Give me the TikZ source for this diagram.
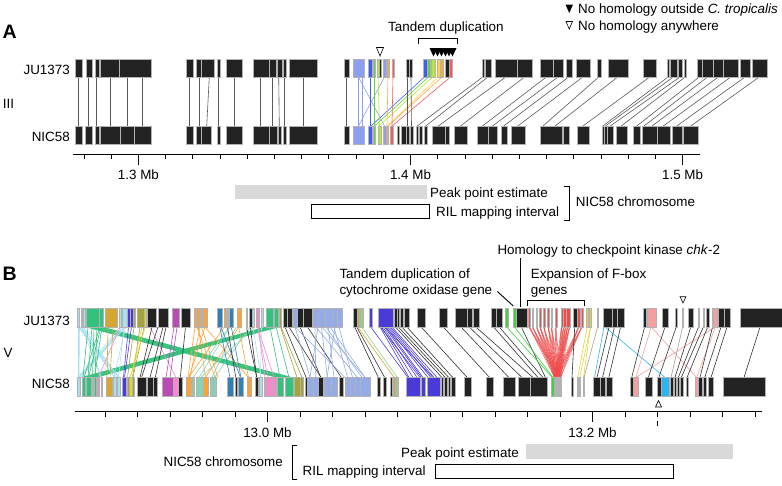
\documentclass[tikz,border=0pt]{standalone}
\usepackage{fontspec}
\setmainfont{Liberation Sans}

% colours of panel A
\definecolor{k}{HTML}{222222}
\definecolor{aLn}{HTML}{5A5A5A}
\definecolor{aLb}{HTML}{8E9FF0}
\definecolor{aBl}{HTML}{3D5EF2}
\definecolor{aGr}{HTML}{5FD62F}
\definecolor{aYg}{HTML}{B8E82A}
\definecolor{aYo}{HTML}{FFCF4A}
\definecolor{aOr}{HTML}{FFA93A}
\definecolor{aRd}{HTML}{F25C5C}
% colours of panel B
\definecolor{kl}{HTML}{333333}
\definecolor{bLc}{HTML}{A8E0F0}
\definecolor{bGr}{HTML}{33C27C}
\definecolor{bGd}{HTML}{D4A733}
\definecolor{bBl}{HTML}{4A3BD9}
\definecolor{bOl}{HTML}{A5A33D}
\definecolor{bMg}{HTML}{B94AB6}
\definecolor{bOr}{HTML}{FFA234}
\definecolor{bSt}{HTML}{2F80B6}
\definecolor{bPk}{HTML}{F48ACB}
\definecolor{bLs}{HTML}{94ABE8}
\definecolor{bSf}{HTML}{88D2B5}
\definecolor{bYe}{HTML}{E3D43A}
\definecolor{bRd}{HTML}{EE4B4B}
\definecolor{bLp}{HTML}{F5A0A0}
\definecolor{bCb}{HTML}{2BB6F2}
\definecolor{bLg}{HTML}{93D08C}
\definecolor{bG2}{HTML}{40D040}
\definecolor{bGy}{HTML}{A0A0A0}
\definecolor{peak}{HTML}{D9D9D9}

\tikzset{
  blk/.style={draw=gray!60, line width=0.35pt},
  lnk/.style={line width=0.6pt},
  lbl/.style={font=\fontsize{13.4}{16}\selectfont, inner sep=0pt},
  panel/.style={font=\fontsize{19.5}{22}\selectfont\bfseries, inner sep=0pt},
  axln/.style={line width=1.1pt},
  axtick/.style={line width=0.8pt},
}

\begin{document}
\begin{tikzpicture}[x=1pt,y=-1pt]
    \useasboundingbox (0,0) rectangle (782,485);

    % ---------------- Panel A ----------------
    \node[panel, anchor=base west] (panA) at (2.5,38.3) {A};
    \node[lbl, anchor=base east] (juA) at (70,74) {JU1373};
    \node[lbl, anchor=base east] (nicA) at (70,141.5) {NIC58};
    \node[lbl, anchor=base] (chrA) at (8.5,108.5) {III};

    % Legend
    \fill (565.5,4.5) -- (573,4.5) -- (569.25,13) -- cycle;
    \draw[line width=0.6pt] (566,21.5) -- (572.5,21.5) -- (569.25,29) -- cycle;
    \node[lbl, anchor=base west] (leg1) at (578,13.5) {No homology outside \textit{C. tropicalis}};
    \node[lbl, anchor=base west] (leg2) at (578,30.3) {No homology anywhere};

    % Tandem duplication bracket and markers
    \node[lbl, anchor=base west] (tand) at (388,31) {Tandem duplication};
    \draw[line width=0.9pt] (418,44) -- (418,38.5) -- (457.3,38.5) -- (457.3,44);
    \foreach \t in {433.5,437.5,441.5,445.5,449,452.5}
        \fill (\t-4,48) -- (\t+4,48) -- (\t,56.5) -- cycle;
    \draw[line width=0.6pt] (376.5,47.5) -- (383.5,47.5) -- (380,56) -- cycle;

    % Connectors
    \foreach \p/\q/\c in {78/78/aLn, 88.7/88.7/aLn, 96.7/96.7/aLn, 110/110/aLn, 127.7/127.7/aLn, 142.7/142.7/aLn,
        189.3/189.3/aLn, 199/199/aLn, 209.3/206.7/aLn, 218.7/218.7/aLn, 234.3/234.3/aLn, 260/260/aLn,
        272.7/272.7/aLn, 278.7/279.3/aLn, 284.3/284.3/aLn, 303.3/303.3/aLn, 346.7/346.7/aLn,
        358/358/aLb, 362.5/362.5/aLb, 358.5/384.5/aLb, 384.5/358.5/aLb,
        370/370/aBl, 424.5/371/aBl, 374/374/aGr, 428.5/374.5/aGr, 378/379.5/aYg, 432.5/379/aYg,
        388/387/aOr, 438/387.5/aYo, 442/388/aOr, 393/392/aRd, 450.5/392/aRd,
        407.3/407.3/aLn, 411/411.5/aLn,
        482.8/417.2/aLn, 487.8/425.8/aLn, 505.8/438.3/aLn, 524.5/460.5/aLn, 546.3/482.5/aLn, 558/492.5/aLn,
        568.7/503.7/aLn, 582.8/517.8/aLn, 598.7/543/aLn, 617.7/555/aLn, 649.7/583/aLn, 668/602.8/aLn,
        673.3/605.5/aLn, 680/610.3/aLn, 685.2/621.2/aLn, 699.2/636.7/aLn, 707.5/644/aLn, 718.3/652/aLn,
        730.8/663.3/aLn, 745/676.8/aLn, 759.2/690.8/aLn}
        \draw[lnk, \c] (\p,77) -- (\q,126);

    % JU1373 row
    \foreach \a/\b/\c in {75/81.7/k, 86/91.7/k, 94.7/98.7/k, 100/119.3/k, 119.3/150.7/k,
        186/192.7/k, 196/201.3/k, 201.3/214.3/k, 217/220.3/k, 226/242/k, 253.3/268.7/k, 268.7/276/k,
        276.7/281.7/k, 282.7/285.7/k, 289/317.3/k, 344.3/349.3/k, 353.3/364.3/aLb, 368.3/371.7/aBl,
        372.7/375/aGr, 376.7/379/aYg, 379.3/380.7/k, 383.3/386.3/aLb, 386.7/389/aOr, 391.7/394.3/aRd,
        406/408.7/k, 409.3/412.3/k, 422.7/426.7/aBl, 427/430.3/aGr, 430.7/434.7/aYg, 436.7/440/aYo,
        440/443.3/aOr, 445/449/k, 449/452/aRd, 481.7/484/k, 485/490.7/k, 495/516.7/k, 517.3/531.7/k,
        540/552.7/k, 553.3/562.7/k, 565.7/571.7/k, 575.7/590/k, 596.7/600.7/k, 607.7/627.7/k,
        643.3/656/k, 666.7/669.3/k, 670/676.7/k, 678.3/681.7/k, 684.3/686/k, 696.7/701.7/k,
        701.7/713.3/k, 713.3/723.3/k, 723.3/738.3/k, 740/750/k, 751.7/766.7/k}
        \draw[blk, fill=\c] (\a,59) rectangle (\b,77);

    % NIC58 row
    \foreach \a/\b/\c in {75/81.7/k, 85.3/91.7/k, 94.7/99/k, 100/120/k, 120/134.3/k, 134.3/150.7/k,
        186/192.7/k, 196/201.3/k, 201.3/210.7/k, 217/220.3/k, 226/242/k, 253.3/268.7/k, 268.7/276.7/k,
        277.7/281.3/k, 282.7/285.7/k, 289/317.3/k, 344.3/349.3/k, 353.3/364.3/aLb, 368.3/372/aBl,
        373/375.3/aGr, 377.7/381/aYg, 383/386/aLb, 386/388.3/aOr, 390/393.3/aRd, 396.7/399.3/k,
        401/406/k, 406/409.3/k, 410/413.3/k, 416/418.3/k, 419.5/422.5/k, 424.3/427.3/k, 431.7/445/k,
        445/449.5/k, 454/467/k, 476.7/488.3/k, 488.3/496.7/k, 500.7/506.7/k, 510.7/525/k, 540/561.7/k,
        562.7/569.3/k, 576.7/589.3/k, 601.7/604/k, 604.3/606.7/k, 607.3/613.3/k, 615.7/626.7/k,
        633.3/640/k, 641.7/656.7/k, 656.7/670/k, 671.7/682/k, 683.3/698.3/k}
        \draw[blk, fill=\c] (\a,126) rectangle (\b,144);

    % Axis
    \draw[axln] (72.7,154.3) -- (700,154.3);
    \foreach \i in {0,...,22}
        \draw[axtick] (84+27.21*\i,154.3) -- ++(0,5);
    \foreach \x in {138.42,410.52,682.62}
        \draw[axtick] (\x,154.3) -- ++(0,10.5);
    \node[lbl, anchor=base] (mbA1) at (138.4,179.5) {1.3 Mb};
    \node[lbl, anchor=base] (mbA2) at (410.5,179.5) {1.4 Mb};
    \node[lbl, anchor=base] (mbA3) at (682.6,179.5) {1.5 Mb};

    % Mapping intervals
    \fill[peak] (235,185) rectangle (426.7,199.3);
    \draw[line width=0.8pt] (311,204.3) rectangle (429.5,218.3);
    \node[lbl, anchor=base west] (peakA) at (430,197.5) {Peak point estimate};
    \node[lbl, anchor=base west] (rilA) at (436,216.3) {RIL mapping interval};
    \draw[line width=0.9pt] (564,186) -- (569,186) -- (569,220) -- (564,220);
    \node[lbl, anchor=base west] (chrmA) at (575.7,206.3) {NIC58 chromosome};

    % ---------------- Panel B ----------------
    \node[panel, anchor=base west] (panB) at (2.5,280.7) {B};
    \node[lbl, anchor=base east] (juB) at (70,325) {JU1373};
    \node[lbl, anchor=base east] (nicB) at (70,388.3) {NIC58};
    \node[lbl, anchor=base] (chrB) at (8,357) {V};

    % Annotations
    \node[lbl, anchor=base west] (tandB) at (339.3,278) {Tandem duplication of};
    \node[lbl, anchor=base west] (cyto) at (339.3,294) {cytochrome oxidase gene};
    \coordinate (cytoPt) at (513.3,306);
    \draw[line width=0.9pt] ([xshift=5pt,yshift=-1pt]cyto.east) -- (cytoPt);
    \node[lbl, anchor=base west] (chk) at (497.3,254.3) {Homology to checkpoint kinase \textit{chk}-2};
    \coordinate (chkTop) at (520.7,258);
    \coordinate (chkBot) at (520.7,306.5);
    \draw[line width=0.9pt] (chkTop) -- (chkBot);
    \node[lbl, anchor=base west] (fbox) at (530.7,278) {Expansion of F-box};
    \node[lbl, anchor=base west] (genes) at (530.7,294) {genes};
    \draw[line width=0.9pt] (527.3,306) -- (527.3,300) -- (584.3,300) -- (584.3,306);
    \draw[line width=0.6pt] (680,296.7) -- (686,296.7) -- (683,303) -- cycle;
    \draw[line width=0.6pt] (655.5,407) -- (661.5,407) -- (658.5,400.5) -- cycle;

    % Long green bands
    \foreach \i in {0,...,7}
        \draw[line width=0.8pt, bGr] (86.5+2.2*\i,327) -- (277.5+2*\i,377.5);
    \foreach \i in {0,...,7}
        \draw[line width=0.8pt, bGr] (266+1.7*\i,327) -- (81.7+2*\i,377.5);

    % Red fan of F-box genes
    \foreach \p in {529.2,532.5,536.5,540,543.8,548.2,551.5,555.8,561.5,563.5,565.5,567.5,569.5,578.7,581.8}
        \foreach \q in {554.5,556.5,558.5,560.5}
            \draw[lnk, bRd, opacity=0.75] (\p,327) -- (\q,377.5);

    % Connectors
    \foreach \p/\q/\c in {78/78/bLc, 79.5/80/bLc, 78.5/115/bLc, 80/117/bLc, 81.5/114.5/bLc, 83/118.5/bLc,
        84/101.5/bLc, 120/78.5/bLc, 122/80.5/bLc, 123.5/79/bLc, 125/81/bLc, 124/118.5/bLc, 125.5/114/bLc,
        79/119.5/bLc, 126/77.8/bLc, 82/100.5/bLc,
        88/83/bGr, 92/88/bGr, 97/95/bGr, 101/88.5/bGr, 102/94.5/bGr, 94/92.5/bGr, 100/84/bGr,
        108/107/bGd, 113/110/bGd,
        120/98.3/bPk, 150/176/bPk, 257.5/268/bPk, 257.5/274/bPk, 258/265/bPk,
        128.5/123.5/bBl, 131.5/124.5/bBl,
        134/127.5/bOl, 140/132.5/bOl, 144/133/bOl, 142/130.5/bYe, 145.3/130/bYe,
        152/140/kl, 158/141.5/kl, 163/150/kl, 166/155.3/kl, 185.5/180.3/kl,
        174/166/bMg, 177/170/bMg,
        195/188/bOr, 198.3/205.5/bOr, 201.3/218/bOr, 205/248.5/bOr, 205/189/bOr, 224.3/188.5/bOr,
        238.7/205.5/bOr, 238.7/248.5/bOr, 197/215/bOr, 200/190/bOr,
        230/199/bSf, 236/212/bSf, 250/214.7/bSf, 229/193/bSf, 254/201/bSf,
        219.8/230/bSt, 231.3/241/bSt, 221/240.5/bSt,
        227.5/235.8/kl, 246.5/256.7/kl, 250.3/256.7/kl, 261.5/260.5/bLc, 253/261/bLc,
        270/280/bGr, 276/289/bGr, 280.5/297/bOl, 281/302/bOl,
        285/306.2/kl, 289/321/kl, 300/320.8/kl, 307.5/341.3/kl,
        295/310/bLs, 315/315.8/bLs, 321.5/327.3/bLs, 328.3/334/bLs, 334/347.5/bLs, 339/352.5/bLs,
        316/357.5/bLs, 322/365/bLs, 295/345/bLs, 330/365/bLs, 318/310/bLs, 335/327/bLs, 326/362/bLs,
        354.7/378.3/kl, 356.7/384.7/kl, 357.8/394.2/bGd, 361.7/397.2/bLg, 370.8/408/bBl,
        380/409/bBl, 381.5/413/bBl, 383/417/bBl, 384.5/421.5/bBl, 386/423/bBl, 387.5/428/bBl,
        389/431/bBl, 390.5/434/bBl, 392/437/bBl, 380.5/420/bBl, 385/433/bBl,
        395.5/441.9/kl, 398.4/445.3/kl, 401.8/448.8/kl, 406.9/452.8/kl, 421.2/467.3/kl, 443.3/489.6/kl,
        461/508.8/kl, 469.2/522/kl, 475.8/533/kl, 493.6/538/kl, 499.3/543/kl, 521.3/545.5/kl,
        506.7/552.3/bG2, 514.7/553/bG2,
        574.7/572/kl, 587.2/577.6/bYe, 590.5/579.7/bYe, 590.5/583.5/bYe, 597.6/584/bGy,
        605/665/bCb, 604/594.5/bCb,
        609/597/kl, 614.5/602.5/kl, 620.6/608.8/kl, 644.6/631.7/kl,
        651.3/635.8/bLp, 651.3/696.6/bLp, 715.3/635.8/bLp, 715.3/696.6/bLp,
        665/648.3/kl, 676.2/658.8/kl, 682.6/671/bGy, 690.8/675/kl, 698.5/678.3/kl, 703.3/681.3/kl,
        707.7/687/kl, 712.5/700/kl, 721/704.7/kl, 727/711/kl, 760/744/kl}
        \draw[lnk, \c] (\p,327) -- (\q,377.5);

    % JU1373 row
    \foreach \a/\b/\c in {77.3/79.3/bLc, 80.7/82/bLc, 82.7/85.5/bLc, 86.5/99/bGr, 99.5/103.3/bGr,
        105/116.7/bGd, 119.3/120.7/bLc, 121.7/126.7/bLc, 127.3/130/bBl, 130.3/132.7/bBl, 132.7/135.3/bOl,
        136.7/144/bOl, 144/146.3/bYe, 147.5/156.5/k, 157.7/168.5/k, 171.7/179.3/bMg, 180.7/190/k,
        194/196/bOr, 196.7/200/bOr, 200.7/202/bOr, 203.3/206.7/bOr, 217.5/222/bSt, 224.3/225.7/bOr,
        226.7/228.3/k, 229.3/233.3/bSt, 236.7/240.7/bOr, 245.7/247.5/k, 249/251.7/k, 252.5/254/bLc,
        256.5/259/bPk, 260.7/263.3/bLc, 265.7/273.3/bGr, 274/278.3/bGr, 279.3/281.5/bOl, 283/286.7/k,
        286.7/291.7/k, 292.8/296.7/bLs, 297.3/303.3/k, 303.3/311.7/k, 312.7/318.3/bLs, 318.3/325/bLs,
        325/331.7/bLs, 331.7/336.7/bLs, 336.7/341.7/bLs, 352.7/356.7/k, 356.7/359/bGd, 360/363.3/bLg,
        369.3/372.3/bBl, 378.3/393/bBl, 394.3/396.7/k, 397.3/399.5/k, 400.3/403.3/k, 404.5/409.3/k,
        417.3/425/k, 439.5/447/k, 455.3/466.7/k, 466.7/471.7/k, 472.7/479/k, 490.7/496.5/k,
        496.5/502/k, 505/508.3/bG2, 513.3/516/bG2, 516/526.7/k, 528.3/530/bRd, 531.7/533.3/bRd,
        535.7/537.3/bRd, 539.3/540.7/bRd, 542.7/545/bRd, 547.3/549/bRd, 550.7/552.3/bRd, 555/556.7/bRd,
        560.7/563.5/bRd, 563.5/566.5/bRd, 566.5/570/bRd, 572.7/576.7/k, 577.3/580/bRd, 581/582.7/bRd,
        586.5/588/bYe, 589.5/591.5/bYe, 596.7/598.5/bGy, 603.3/611.7/k, 612.3/616.7/k, 617.3/624/k,
        643.3/646/k, 646.7/656/bLp, 661.7/668.3/k, 675/677.3/k, 681.7/683.5/bGy, 688.3/693.3/k,
        697.7/699.3/k, 702.7/704/k, 706/709.3/k, 711.7/713.3/k, 713.3/717.3/bLp, 718.3/724/k,
        724/730/k, 740/781.7/k}
        \draw[blk, fill=\c] (\a,308.5) rectangle (\b,327);

    % NIC58 row
    \foreach \a/\b/\c in {77.3/80/bLc, 81.7/85/bGr, 86/90.7/bGr, 91.7/93.3/k, 94/96/bGr, 97.3/99.3/bPk,
        100.7/102.3/bLc, 105.7/111.7/bGd, 113.3/115.7/bLc, 116.7/120/bLc, 122.3/125.7/bBl, 126.7/129/bOl,
        129.3/131.7/bYe, 131.7/134/bOl, 136.7/146/k, 147.3/152.7/k, 153.3/157.3/k, 161.7/173.3/bMg,
        173.3/178.3/bPk, 178.3/182.3/k, 186/190.7/bOr, 191.7/194.3/bSf, 195.7/202.7/bSf, 203.3/207.7/bOr,
        210/212.7/bSf, 213.3/216/bSf, 226.7/233.3/bSt, 235/236.7/k, 238.3/243.3/bSt, 246.7/250.7/bOr,
        255/258.3/k, 259.3/261.7/bLc, 264/266.7/bPk, 266.7/271.7/bPk, 272/276/bPk, 277.3/283.3/bGr,
        285/292.7/bGr, 294/300/bOl, 300/303.3/bOl, 305/307.3/k, 307.3/312.7/bLs, 313.3/318.3/bLs,
        318.3/323.3/k, 324/330.7/bLs, 330.7/337.3/bLs, 339.3/343.3/k, 345/350/bLs, 350/355/bLs,
        355/360/bLs, 360/370/bLs, 376.7/380/k, 383.3/386/k, 390/392.3/k, 393.3/395/bGd, 396/398.3/bLg,
        406.5/420/bBl, 420.7/425/bBl, 426.7/440/bBl, 440.7/443.3/k, 444/446.7/k, 447.7/450/k,
        450.7/455/k, 464/470.7/k, 486/493.3/k, 502.7/515/k, 518.3/530/k, 530/546.7/k, 550.7/554/bG2,
        554/555.5/bRd, 556/557.5/bRd, 558/559.5/bRd, 560/561.5/bRd, 570.7/573.3/k, 576.7/578.5/bYe,
        579/580.5/bYe, 582.7/584.3/bYe, 593.3/600/k, 600/605/k, 606/611.7/k, 630/633.3/k,
        633.3/638.3/bLp, 645/651.7/k, 656.7/661/k, 661/669/bCb, 670/672.7/k, 674/676/k, 677.3/679.3/k,
        680/682.7/k, 686/688/k, 695/698.3/bLp, 698.3/701.7/k, 703.3/706/k, 708.3/713.3/k, 722.7/765/k}
        \draw[blk, fill=\c] (\a,377.5) rectangle (\b,396);

    % Axis
    \draw[axln] (75,411.7) -- (761.5,411.7);
    \foreach \i in {0,...,20}
        \draw[axtick] (105+32.5*\i,411.7) -- ++(0,5);
    \foreach \x in {267.5,592.5}
        \draw[axtick] (\x,411.7) -- ++(0,10);
    \draw[axtick] (657.5,421) -- (657.5,426);
    \node[lbl, anchor=base] (mbB1) at (267.5,437.5) {13.0 Mb};
    \node[lbl, anchor=base] (mbB2) at (592.5,437.5) {13.2 Mb};

    % Mapping intervals
    \fill[peak] (526,444.3) rectangle (733,459);
    \draw[line width=0.8pt] (435,464.3) rectangle (673.5,478.3);
    \node[lbl, anchor=base east] (peakB) at (519,457) {Peak point estimate};
    \node[lbl, anchor=base west] (rilB) at (302.5,475.6) {RIL mapping interval};
    \draw[line width=0.9pt] (297,445) -- (292,445) -- (292,479) -- (297,479);
    \node[lbl, anchor=base east] (chrmB) at (283,466.3) {NIC58 chromosome};

\end{tikzpicture}
\end{document}
